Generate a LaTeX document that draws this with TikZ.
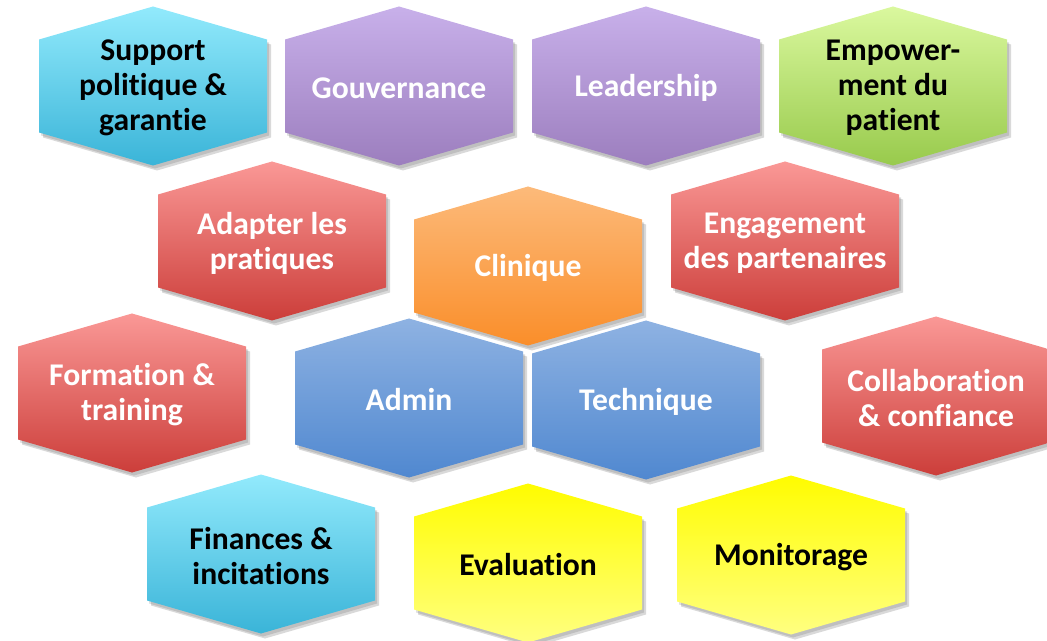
\documentclass[tikz,border=0pt]{standalone}
\usepackage[RGB]{xcolor}
\usepackage{fontspec}
\setmainfont[Ligatures={NoCommon}]{Carlito}
\usepackage{tikz}
\definecolor{cyanT}{RGB}{146,234,252}
\definecolor{cyanB}{RGB}{58,180,216}
\definecolor{purpT}{RGB}{200,176,234}
\definecolor{purpB}{RGB}{156,126,190}
\definecolor{grnT}{RGB}{218,248,158}
\definecolor{grnB}{RGB}{152,202,76}
\definecolor{redT}{RGB}{250,152,150}
\definecolor{redB}{RGB}{204,62,58}
\definecolor{orT}{RGB}{252,186,122}
\definecolor{orB}{RGB}{250,142,42}
\definecolor{bluT}{RGB}{142,178,226}
\definecolor{bluB}{RGB}{80,136,208}
\definecolor{yelT}{RGB}{255,252,0}
\definecolor{yelB}{RGB}{255,255,128}
\tikzset{hextext/.style={align=center,font=\fontsize{18}{20}\selectfont\bfseries,inner sep=0pt}}
% hexagon outline around the current point
\newcommand{\hexpath}{+(0,-79.5) -- +(114,-46.5) -- +(114,46.5) -- +(0,79.5) -- +(-114,46.5) -- +(-114,-46.5) -- cycle}
% #1 name, #2 x, #3 y, #4 top, #5 bottom, #6 text colour, #7 text
\newcommand{\hexcell}[7]{
    \fill[black,opacity=.12] (#2+2,#3+3) \hexpath;
    \fill[black,opacity=.15] (#2+4,#3+5) \hexpath;
    \shade[top color=#4,bottom color=#5] (#2,#3) \hexpath;
    \node[hextext,text=#6] (#1) at (#2,#3+2) {#7};
}

\begin{document}
\begin{tikzpicture}[x=0.02cm,y=-0.02cm]
\useasboundingbox (0,0) rectangle (1047,641);
\hexcell{support}{153}{86}{cyanT}{cyanB}{black}{Support\\politique \&\\garantie}
\hexcell{gouv}{399}{86}{purpT}{purpB}{white}{Gouvernance}
\hexcell{lead}{646}{86}{purpT}{purpB}{white}{Leadership}
\hexcell{empow}{893}{86}{grnT}{grnB}{black}{Empower-\\ment du\\patient}
\hexcell{adapt}{272}{241}{redT}{redB}{white}{Adapter les\\pratiques}
\hexcell{engag}{785}{241}{redT}{redB}{white}{Engagement\\des partenaires}
\hexcell{form}{132}{393}{redT}{redB}{white}{Formation \&\\training}
\hexcell{admin}{409}{398}{bluT}{bluB}{white}{Admin}
\hexcell{tech}{646}{400}{bluT}{bluB}{white}{Technique}
\hexcell{clin}{528}{266}{orT}{orB}{white}{Clinique}
\hexcell{collab}{936}{396}{redT}{redB}{white}{Collaboration\\\& confiance}
\hexcell{fin}{261}{554}{cyanT}{cyanB}{black}{Finances \&\\incitations}
\hexcell{eval}{528}{563}{yelT}{yelB}{black}{Evaluation}
\hexcell{monit}{791}{555}{yelT}{yelB}{black}{Monitorage}
\end{tikzpicture}
\end{document}
